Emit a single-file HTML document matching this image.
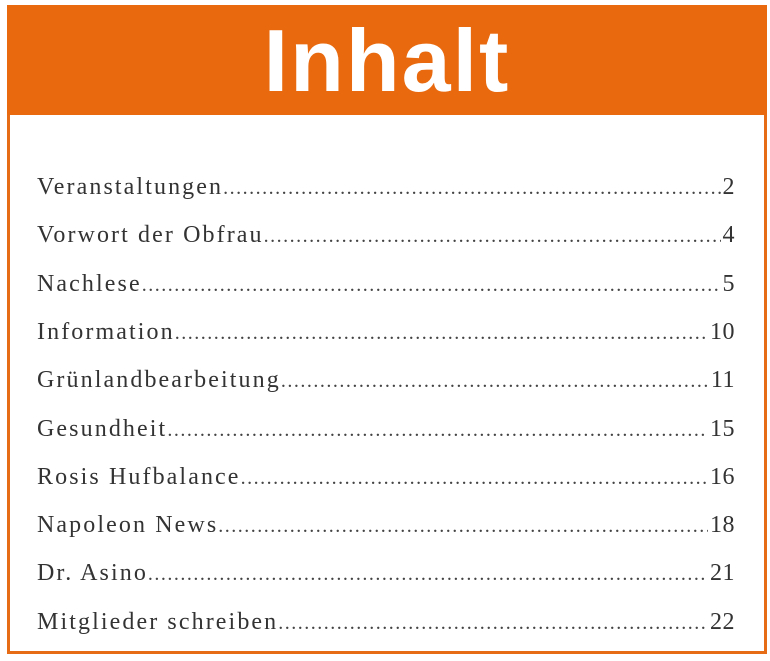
<!DOCTYPE html>
<html><head><meta charset="utf-8"><style>
html,body{margin:0;padding:0;background:#fff;}
body{width:770px;height:661px;position:relative;overflow:hidden;font-family:"Liberation Serif",serif;}
#frame{position:absolute;left:7px;top:5px;width:754px;height:646px;border:3px solid #e66c16;border-top:none;}
#header{position:absolute;left:7px;top:5px;width:760px;height:110px;background:#e8690e;color:#fff;font-family:"Liberation Sans",sans-serif;font-weight:bold;font-size:88px;text-align:center;line-height:112px;letter-spacing:2px;}
.row{position:absolute;left:37px;width:698px;display:flex;align-items:baseline;font-size:24px;letter-spacing:2.1px;color:#333;white-space:nowrap;height:30px;line-height:30px;}
.lead{flex:1;overflow:hidden;letter-spacing:1.5px;color:#444;font-size:20px;}
.pg{padding-left:2px;letter-spacing:0.5px;}
</style></head><body>
<div id="frame"></div>
<div id="header">Inhalt</div>
<div id="rows"></div>
<script>
const titles=["Veranstaltungen","Vorwort der Obfrau","Nachlese","Information","Grünlandbearbeitung","Gesundheit","Rosis Hufbalance","Napoleon News","Dr. Asino","Mitglieder schreiben"];
const pages=["2","4","5","10","11","15","16","18","21","22"];
const c=document.getElementById('rows');
titles.forEach((t,i)=>{
 const r=document.createElement('div');
 r.className='row';
 
 
 r.style.top=(172+i*48.3)+'px';
 const a=document.createElement('span');a.textContent=t+' ';
 
 
 const l=document.createElement('span');l.className='lead';l.textContent='.'.repeat(300);
 
 
 const p=document.createElement('span');p.className='pg';p.textContent=pages[i];
 
 
 r.append(a,l,p);c.appendChild(r);
});
</script>
</body></html>
